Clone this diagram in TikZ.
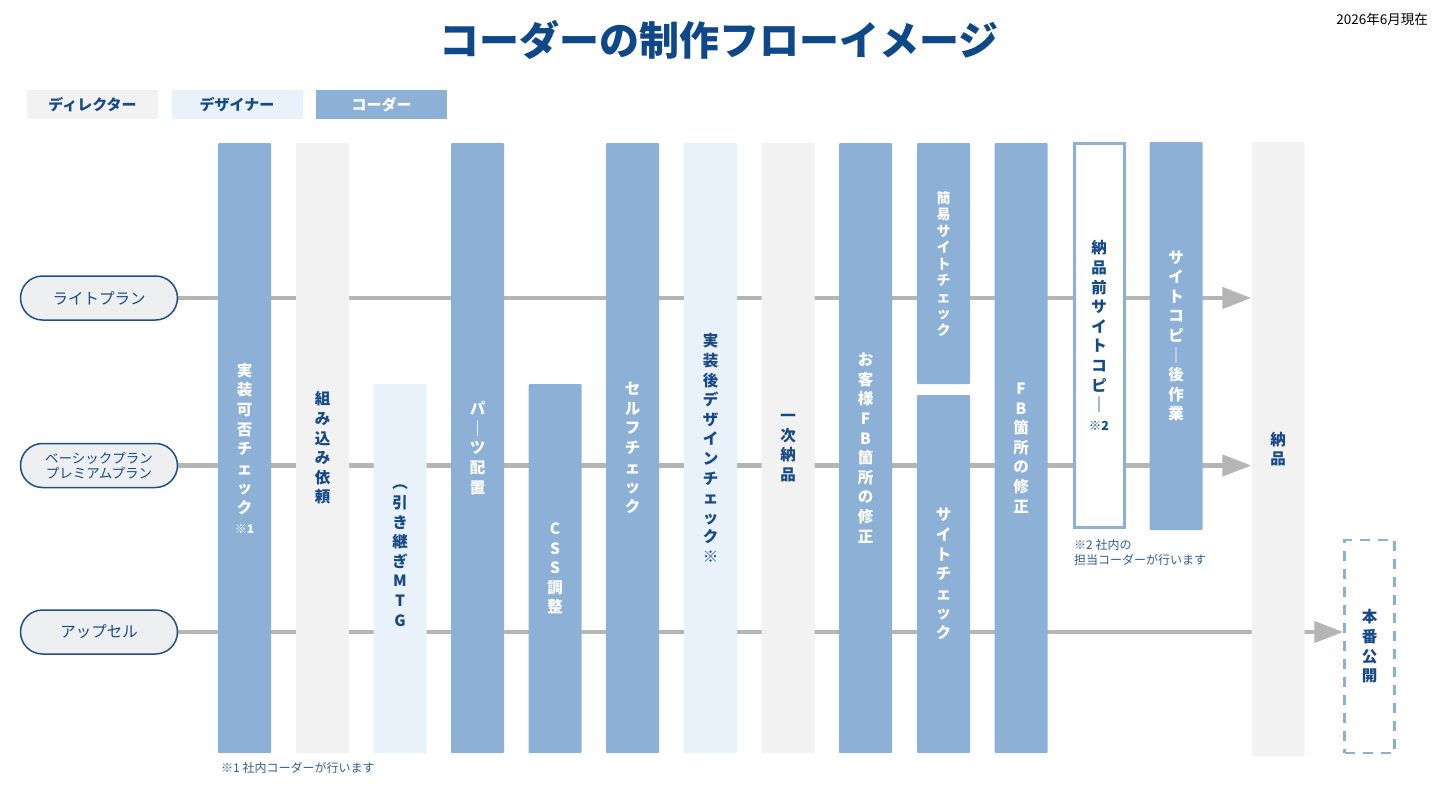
\documentclass[tikz,border=0pt]{standalone}
\usepackage{fontspec}
\setmainfont{Noto Sans CJK JP}
\usetikzlibrary{arrows.meta,backgrounds}
\definecolor{coder}{HTML}{8DB1D6}
\definecolor{dirc}{HTML}{F2F2F2}
\definecolor{desc}{HTML}{E9F1FA}
\definecolor{navy}{HTML}{164A86}
\definecolor{titlec}{HTML}{0F4888}
\definecolor{flowgray}{HTML}{B5B5B5}
\definecolor{pillfill}{HTML}{EEEFF1}
\definecolor{pillline}{HTML}{1F4E88}
\definecolor{notec}{HTML}{2F5E97}
\begin{document}
\begin{tikzpicture}[x=1pt,y=-1pt,
  colbar/.style={rectangle, inner sep=0pt, minimum width=53pt, align=center,
    rounded corners=1pt, font=\bfseries\fontsize{15.5}{19.6}\selectfont},
  coderbar/.style={colbar, fill=coder, text=white},
  dirbar/.style={colbar, fill=dirc, text=navy},
  desbar/.style={colbar, fill=desc, text=navy},
  outlinebar/.style={colbar, minimum width=50pt, fill=white, draw=coder, line width=3pt, rounded corners=0pt, text=navy},
  dashbar/.style={colbar, minimum width=50pt, draw=coder, line width=2.5pt, dash pattern=on 10pt off 8pt, rounded corners=0pt, text=navy},
  legend/.style={rectangle, inner sep=0pt, minimum width=131pt, minimum height=29pt, font=\bfseries\fontsize{15}{18}\selectfont},
  pill/.style={rectangle, rounded corners=22pt, draw=pillline, line width=1.5pt, fill=pillfill,
    minimum width=157pt, minimum height=44pt, inner sep=0pt, align=center, text=navy},
  flow/.style={draw=flowgray, line width=4.5pt},
  flowarrow/.style={flow, -{Triangle[length=29pt,width=21pt]}},
  note/.style={inner sep=0pt, text=notec, font=\fontsize{12}{15}\selectfont, align=left}
]
\useasboundingbox (0,0) rectangle (1436,806);

% title and date
\node[font=\bfseries\fontsize{40}{48}\selectfont, text=titlec] (title) at (719,40) {コーダーの制作フローイメージ};
\node[anchor=east, inner sep=0pt, font=\fontsize{13.5}{16}\selectfont] (date) at (1428,19) {2026年6月現在};

% legend
\node[legend, fill=dirc, text=navy] (lgdir) at (92.5,104.5) {ディレクター};
\node[legend, fill=desc, text=navy] (lgdes) at (237,104.5) {デザイナー};
\node[legend, fill=coder, text=white] (lgcod) at (381.5,104.5) {コーダー};

% plans
\node[pill, font=\fontsize{15.5}{18}\selectfont] (p1) at (99,298) {ライトプラン};
\node[pill, font=\fontsize{13.5}{15}\selectfont] (p2) at (99,465.5) {ベーシックプラン\\プレミアムプラン};
\node[pill, font=\fontsize{15.5}{18}\selectfont] (p3) at (99,632) {アップセル};

% columns
\node[coderbar, minimum height=610pt] (c1) at (244.5,448) {実\\装\\可\\否\\チ\\ェ\\ッ\\ク\\{\fontsize{12}{19.6}\selectfont ※1}};
\node[dirbar, minimum height=610pt] (c2) at (322.5,448) {組\\み\\込\\み\\依\\頼};
\node[desbar, minimum height=369pt] (c3) at (400,568.5) {︵\\引\\き\\継\\ぎ\\M\\T\\G\\[6pt]};
\node[coderbar, minimum height=610pt] (c4) at (477.5,448) {パ\\｜\\ツ\\配\\置};
\node[coderbar, minimum height=369pt] (c5) at (555,568.5) {C\\S\\S\\調\\整};
\node[coderbar, minimum height=610pt] (c6) at (632.5,448) {セ\\ル\\フ\\チ\\ェ\\ッ\\ク};
\node[desbar, minimum height=610pt] (c7) at (710.5,448) {実\\装\\後\\デ\\ザ\\イ\\ン\\チ\\ェ\\ッ\\ク\\※};
\node[dirbar, minimum height=610pt] (c8) at (788,448) {一\\次\\納\\品};
\node[coderbar, minimum height=610pt] (c9) at (865.5,448) {お\\客\\様\\F\\B\\箇\\所\\の\\修\\正};
\node[coderbar, minimum height=241pt, font=\bfseries\fontsize{14}{16.5}\selectfont] (c10a) at (943.5,263.5) {簡\\易\\サ\\イ\\ト\\チ\\ェ\\ッ\\ク};
\node[coderbar, minimum height=358pt] (c10b) at (943.5,574) {サ\\イ\\ト\\チ\\ェ\\ッ\\ク};
\node[coderbar, minimum height=610pt] (c11) at (1021,448) {F\\B\\箇\\所\\の\\修\\正};
\node[outlinebar, minimum height=384pt] (c12) at (1099,335.5) {納\\品\\前\\サ\\イ\\ト\\コ\\ピ\\｜\\{\fontsize{12.5}{19.6}\selectfont ※2}};
\node[coderbar, minimum height=388pt] (c13) at (1176,336) {サ\\イ\\ト\\コ\\ピ\\｜\\後\\作\\業};
\node[dirbar, minimum height=614pt] (c14) at (1278,449) {納\\品};
\node[dashbar, minimum height=213pt] (c15) at (1369.5,646.5) {本\\番\\公\\開};

% notes
\node[note, anchor=west] (fn1) at (221,768) {※1 社内コーダーが行います};
\node[note, anchor=north west] (fn2) at (1074,539) {※2 社内の\\担当コーダーが行います};

% flow lines
\begin{pgfonlayer}{background}
\fill[white] (0,0) rectangle (1436,806);
\draw[flowarrow] (p1.east) -- (p1.east -| c14.west);
\draw[flowarrow] (p2.east) -- (p2.east -| c14.west);
\draw[flowarrow] (p3.east) -- (p3.east -| c15.west);
\end{pgfonlayer}
\end{tikzpicture}
\end{document}
